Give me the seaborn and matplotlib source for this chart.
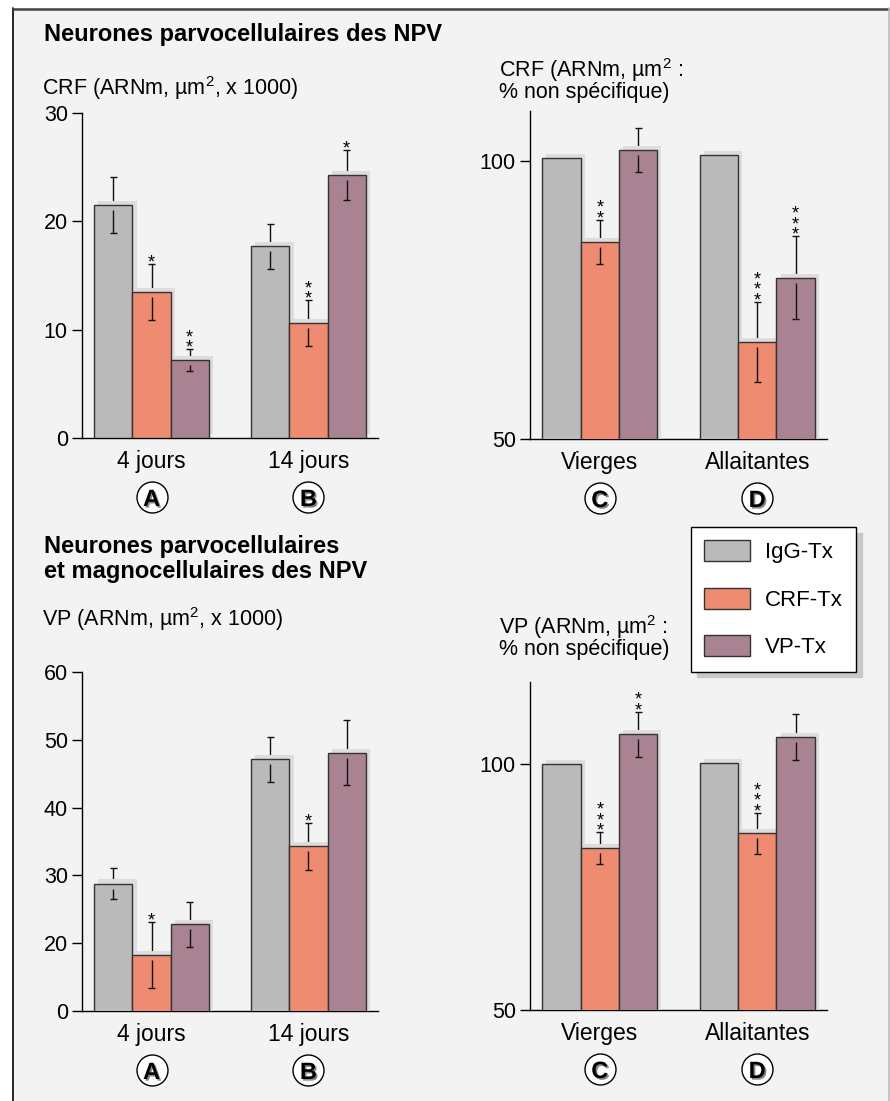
import matplotlib
matplotlib.use('Agg')
import matplotlib.pyplot as plt
import matplotlib.patheffects as pe
import matplotlib.transforms as mtransforms
from matplotlib.patches import Rectangle, Patch
from matplotlib.lines import Line2D
import seaborn as sns
import pandas as pd

# categories
jours = ['4 jours', '14 jours']
etats = ['Vierges', 'Allaitantes']
traitements = ['IgG-Tx', 'CRF-Tx', 'VP-Tx']
lettres_jours = ['A', 'B']
lettres_etats = ['C', 'D']

# CRF, neurones parvocellulaires (um2 x 1000) - lignes = traitements, colonnes = jours
crf_abs_moy = [[21.5, 17.7], [13.5, 10.6], [7.2, 24.3]]
crf_abs_err = [[2.6, 2.1], [2.6, 2.1], [1.0, 2.3]]
crf_abs_sig = [['', ''], ['*', '**'], ['**', '*']]

# CRF, % non specifique - colonnes = etats
crf_pct_moy = [[100.5, 101.0], [85.4, 67.5], [102.0, 79.0]]
crf_pct_err = [[0, 0], [4.0, 7.2], [4.0, 7.5]]
crf_pct_sig = [['', ''], ['**', '***'], ['', '***']]

# VP, neurones parvo + magnocellulaires (um2 x 1000)
vp_abs_moy = [[28.8, 47.1], [18.3, 34.3], [22.8, 48.1]]
vp_abs_err = [[2.3, 3.3], [4.9, 3.5], [3.3, 4.8]]
vp_abs_sig = [['', ''], ['*', '*'], ['', '']]

# VP, % non specifique
vp_pct_moy = [[100.0, 100.2], [82.9, 85.9], [106.1, 105.5]]
vp_pct_err = [[0, 0], [3.3, 4.2], [4.6, 4.6]]
vp_pct_sig = [['', ''], ['***', '***'], ['**', '']]

couleurs = ['#bababa', '#ef8b70', '#aa8392']

sns.set_style('ticks')
plt.rcParams['font.family'] = ['Liberation Sans', 'DejaVu Sans']
plt.rcParams['mathtext.fontset'] = 'custom'
plt.rcParams['mathtext.rm'] = 'Liberation Sans'
plt.rcParams['mathtext.it'] = 'Liberation Sans'
plt.rcParams['text.color'] = 'black'
plt.rcParams['xtick.color'] = 'black'
plt.rcParams['ytick.color'] = 'black'
plt.rcParams['xtick.labelcolor'] = 'black'
plt.rcParams['ytick.labelcolor'] = 'black'

W, H = 890, 1101
fig = plt.figure(figsize=(W / 100, H / 100), dpi=100, facecolor='white')

# fond gris encadre
fig.add_artist(Rectangle((13 / W, -0.01), (889 - 13) / W, 1.01 - 8 / H, transform=fig.transFigure,
                         facecolor='#f3f3f3', edgecolor='none', zorder=-5))
fig.add_artist(Line2D([13 / W, 13 / W], [0, 1 - 8 / H], transform=fig.transFigure, color='black', lw=1.2))
fig.add_artist(Line2D([13 / W, 889 / W], [1 - 8.5 / H, 1 - 8.5 / H], transform=fig.transFigure, color='#444444', lw=1.8))
fig.add_artist(Line2D([889 / W, 889 / W], [0, 1 - 8 / H], transform=fig.transFigure, color='#bbbbbb', lw=1.2))


def panneau(px, groupes, moy, err, sig, ylim, yticks, yticklabels, lettres):
    x0, y0, x1, y1 = px  # pixels: gauche, haut, droite, bas
    ax = fig.add_axes([x0 / W, 1 - y1 / H, (x1 - x0) / W, (y1 - y0) / H])
    ax.set_facecolor('none')
    df = pd.DataFrame({'groupe': [g for t in traitements for g in groupes],
                       'traitement': [t for t in traitements for g in groupes],
                       'valeur': [v for row in moy for v in row]})
    sns.barplot(data=df, x='groupe', y='valeur', hue='traitement', order=groupes, hue_order=traitements,
                palette=couleurs, saturation=1, width=0.73, errorbar=None, edgecolor='#333333',
                linewidth=1.0, legend=False, ax=ax, zorder=3)
    xlim = (-0.443, 1.443)
    ax.set_xlim(*xlim)
    ax.set_ylim(*ylim)
    px_y = (y1 - y0) / (ylim[1] - ylim[0])
    px_x = (x1 - x0) / (xlim[1] - xlim[0])
    cap = 3.5 / px_x
    gap = 5 / px_y
    for k, cont in enumerate(ax.containers):
        for j, bar in enumerate(cont):
            bar.set_path_effects([pe.SimplePatchShadow(offset=(3, 3), shadow_rgbFace='#dddddd', alpha=1.0),
                                  pe.Normal()])
            x = bar.get_x() + bar.get_width() / 2
            v = bar.get_height()
            e = err[k][j]
            if e > 0:
                ax.vlines(x, v, v + e, color='#111111', lw=1, zorder=2)
                ax.hlines(v + e, x - cap, x + cap, color='#111111', lw=1, zorder=2)
                ax.vlines(x, v - e, v - gap, color='#111111', lw=1, zorder=5)
                ax.hlines(v - e, x - cap, x + cap, color='#111111', lw=1, zorder=5)
            if sig[k][j]:
                etoiles = '\n'.join(sig[k][j])
                ax.annotate(etoiles, xy=(x, v + e), xytext=(0, -5.4), textcoords='offset points',
                            ha='center', va='bottom', fontsize=13, linespacing=0.5, zorder=6)
    sns.despine(ax=ax)
    for side in ['left', 'bottom']:
        ax.spines[side].set_linewidth(1)
        ax.spines[side].set_color('black')
    ax.set_yticks(yticks)
    ax.set_yticklabels(yticklabels)
    ax.tick_params(axis='y', length=7.2, width=1, pad=3, labelsize=15.5, color='black')
    ax.tick_params(axis='x', length=0, pad=8.5, labelsize=16.5)
    ax.set_xlabel('')
    ax.set_ylabel('')
    trans = mtransforms.blended_transform_factory(ax.transData, ax.transAxes)
    off = mtransforms.offset_copy(trans, fig=fig, y=-59, units='dots')
    for x, l in zip(ax.get_xticks(), lettres):
        ax.plot([x], [0], marker='o', ms=22.3, mfc='white', mec='black', mew=1, transform=off,
                clip_on=False, zorder=6)
        ax.text(x, 0, l, transform=off, ha='center', va='center_baseline', fontsize=17, fontweight='bold',
                zorder=7, path_effects=[pe.withSimplePatchShadow(offset=(1.2, -1.2), shadow_rgbFace='#888888',
                                                                 alpha=1.0)])
    return ax


panneau((82, 113, 378, 438), jours, crf_abs_moy, crf_abs_err, crf_abs_sig,
        (0, 30), [0, 10, 20, 30], ['0', '10', '20', '30'], lettres_jours)
panneau((530, 111, 827, 439), etats, crf_pct_moy, crf_pct_err, crf_pct_sig,
        (50, 109.0), [50, 100], ['50', '100'], lettres_etats)
panneau((82, 672, 378, 1011), jours, vp_abs_moy, vp_abs_err, vp_abs_sig,
        (10, 60), [10, 20, 30, 40, 50, 60], ['0', '20', '30', '40', '50', '60'], lettres_jours)
panneau((530, 682, 827, 1010), etats, vp_pct_moy, vp_pct_err, vp_pct_sig,
        (50, 116.7), [50, 100], ['50', '100'], lettres_etats)

# textes
def texte(x, y, s, **kw):
    fig.text(x / W, 1 - y / H, s, ha='left', va='baseline', **kw)

texte(44, 41, 'Neurones parvocellulaires des NPV', fontsize=17, fontweight='bold')
texte(42, 95, 'CRF (ARNm, µm$^2$, x 1000)', fontsize=15.5)
texte(44, 553, 'Neurones parvocellulaires', fontsize=17, fontweight='bold')
texte(44, 578, 'et magnocellulaires des NPV', fontsize=17, fontweight='bold')
texte(42, 626, 'VP (ARNm, µm$^2$, x 1000)', fontsize=15.5)
texte(499, 77, 'CRF (ARNm, µm$^2$ :', fontsize=15.5)
texte(499, 98, '% non spécifique)', fontsize=15.5)
texte(499, 634, 'VP (ARNm, µm$^2$ :', fontsize=15.5)
texte(499, 655, '% non spécifique)', fontsize=15.5)

# legende
poignees = [Patch(facecolor=c, edgecolor='#333333', lw=1, label=t) for c, t in zip(couleurs, traitements)]
leg = fig.legend(handles=poignees, loc='upper left', bbox_to_anchor=(691 / W, 1 - 527 / H),
                 bbox_transform=fig.transFigure, borderaxespad=0, frameon=True, fancybox=False,
                 shadow={'ox': 4, 'oy': -4, 'color': '#c8c8c8', 'alpha': 1}, fontsize=16,
                 handlelength=2.07, handleheight=1.08, labelspacing=1.1, borderpad=0.6,
                 handletextpad=0.65, framealpha=1, edgecolor='black', facecolor='white')
leg.get_frame().set_linewidth(1)

fig.savefig('out.png', dpi=100, facecolor='white')
